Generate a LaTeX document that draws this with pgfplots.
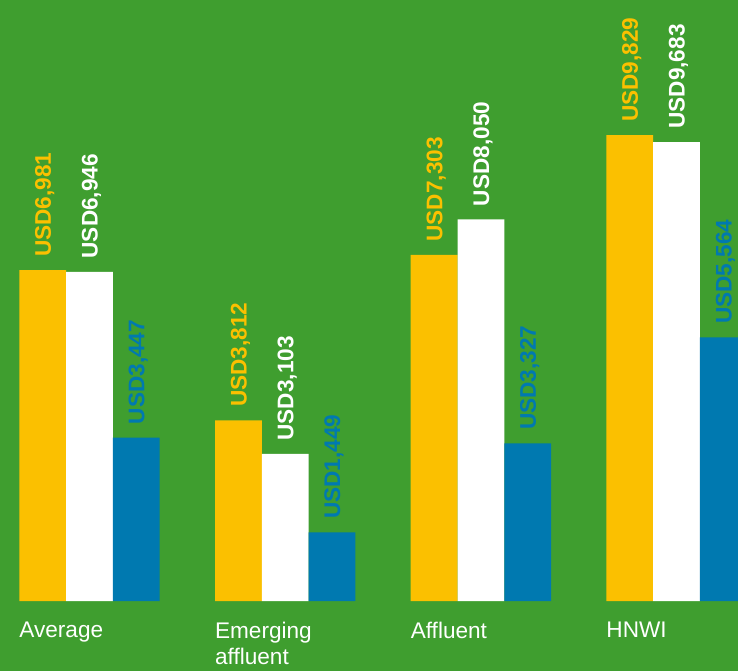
\documentclass[border=0pt]{standalone}
\usepackage{pgfplots}
\pgfplotsset{compat=1.18}
\usepackage{fontspec}
\setmainfont{Liberation Sans}
\definecolor{bggreen}{RGB}{63,158,47}
\definecolor{baryellow}{RGB}{251,192,0}
\definecolor{barblue}{RGB}{0,121,176}
\begin{document}
\begin{tikzpicture}
\clip (0,0) rectangle (369pt,335.5pt);
\fill[bggreen] (0,0) rectangle (369pt,335.5pt);
\begin{axis}[
  at={(0,0)}, anchor=south west,
  scale only axis,
  width=369pt, height=335.5pt,
  xmin=-0.4573, xmax=3.3138,
  ymin=-1477, ymax=12680,
  hide axis,
  ybar, bar width=0.239,
  point meta=explicit symbolic,
  nodes near coords,
  every node near coord/.append style={
    rotate=90, anchor=west, inner xsep=6.5pt, inner ysep=0pt, yshift=-1pt,
    font=\fontsize{11.3}{13}\selectfont\bfseries},
]
\addplot[draw=none, fill=baryellow, bar shift=-0.239,
  every node near coord/.append style={text=baryellow}] coordinates {
  (0,6981) [USD6,981]
  (1,3812) [USD3,812]
  (2,7303) [USD7,303]
  (3,9829) [USD9,829]
};
\addplot[draw=none, fill=white, bar shift=0,
  every node near coord/.append style={text=white}] coordinates {
  (0,6946) [USD6,946]
  (1,3103) [USD3,103]
  (2,8050) [USD8,050]
  (3,9683) [USD9,683]
};
\addplot[draw=none, fill=barblue, bar shift=0.239,
  every node near coord/.append style={text=barblue}] coordinates {
  (0,3447) [USD3,447]
  (1,1449) [USD1,449]
  (2,3327) [USD3,327]
  (3,5564) [USD5,564]
};
\begin{scope}[every node/.style={anchor=north west, inner sep=0pt, align=left,
  text=white, font=\fontsize{11.3}{13}\selectfont}]
\node at (axis cs:-0.3603,-443) {Average};
\node at (axis cs:0.6397,-443) {Emerging\\affluent};
\node at (axis cs:1.6397,-443) {Affluent};
\node at (axis cs:2.6397,-443) {HNWI};
\end{scope}
\end{axis}
\end{tikzpicture}
\end{document}
